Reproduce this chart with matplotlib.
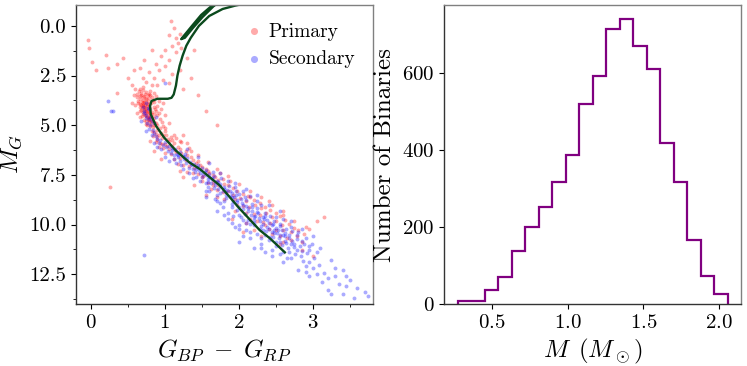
import numpy as np
import matplotlib
matplotlib.use("Agg")
import matplotlib.pyplot as plt
from matplotlib.ticker import AutoMinorLocator

plt.rcParams["font.family"] = "serif"
plt.rcParams["font.serif"] = ["cmr10"]
plt.rcParams["mathtext.fontset"] = "cm"
plt.rcParams["axes.formatter.use_mathtext"] = True

# --- colour-magnitude diagram (colour BP-RP vs M_G) ---
primary_pts = """
-0.04,0.7 -0.02,1.1 0.02,1.8 0.07,2.2 0.2,1.45 0.23,2.1 0.36,1.9 0.43,1.6 0.26,8.1 0.5,2.6 0.55,3.0 0.58,2.2 0.35,3.4
1.08,-0.25 1.12,0.1 1.05,0.45 1.15,0.6 1.2,0.4 1.18,0.85 1.1,1.0 1.0,1.2 0.95,1.5 1.05,1.7 1.15,1.3 1.22,1.1 0.88,1.9
0.92,2.2 1.0,2.0 1.1,2.4 0.78,2.3 0.85,2.6 0.98,2.7 1.05,2.9 0.7,2.6 0.75,2.85 0.9,3.0 1.2,2.2 1.3,1.6 1.4,1.2 1.35,2.6
0.82,1.2 0.72,1.7 0.66,2.1 1.25,3.2 1.45,3.5 1.7,5.0 1.55,4.3
0.65,3.3 0.7,3.25 0.75,3.35 0.8,3.3 0.85,3.4 0.68,3.5 0.72,3.55 0.77,3.5 0.63,3.6 0.66,3.7 0.7,3.75 0.74,3.7 0.79,3.65
0.83,3.6 0.88,3.55 0.64,3.9 0.67,3.95 0.71,3.9 0.75,3.85 0.78,3.95 0.86,3.85 0.92,3.8 0.66,4.1 0.69,4.15 0.72,4.1
0.76,4.05 0.8,4.2 0.85,4.1 0.9,4.05 0.67,4.3 0.71,4.35 0.74,4.3 0.78,4.4 0.83,4.35 0.88,4.3 0.95,4.2 0.69,4.55 0.73,4.5
0.76,4.6 0.8,4.55 0.85,4.65 0.9,4.5 0.72,4.75 0.75,4.8 0.79,4.85 0.83,4.75 0.88,4.9 0.94,4.7 0.76,5.0 0.8,5.05 0.84,5.1
0.9,5.0 0.97,5.05 0.6,4.0 0.58,3.5 0.62,4.4 1.0,4.5 1.05,4.9 0.98,3.9 0.7,3.1 0.82,3.0 0.6,3.2 0.55,3.9 0.66,4.6
0.68,3.4 0.73,3.45 0.78,3.42 0.64,3.8 0.69,3.85 0.73,3.98 0.77,3.78 0.81,3.9 0.68,4.22 0.73,4.2 0.77,4.25 0.81,4.45
0.7,4.45 0.75,4.4 0.78,4.52 0.86,4.45 0.74,4.95 0.78,4.75 0.81,4.95 0.86,5.0 0.71,4.0 0.84,3.75 0.87,4.2 0.92,4.4
0.62,3.45 0.67,3.2 0.96,4.85 0.93,5.15
0.7,3.6 0.74,3.62 0.72,3.82 0.76,3.92 0.7,4.05 0.74,4.12 0.78,4.1 0.72,4.25 0.76,4.35 0.8,4.38 0.74,4.55 0.78,4.62
0.82,4.6 0.77,4.7 0.81,4.78 0.85,4.85 0.8,3.5 0.66,3.55 0.68,4.0
0.82,5.3 0.86,5.35 0.9,5.25 0.95,5.4 1.0,5.3 0.84,5.55 0.9,5.6 0.96,5.65 1.02,5.5 1.08,5.6 0.88,5.85 0.94,5.9 1.0,5.95
1.06,5.8 1.12,5.9 0.92,6.1 0.98,6.15 1.05,6.2 1.1,6.05 1.18,6.1 1.0,6.4 1.08,6.45 1.15,6.35 1.22,6.4 0.8,5.8 1.3,5.9
1.25,5.5 0.85,6.3 0.95,6.7 1.35,6.3
0.88,5.45 0.92,5.5 0.98,5.5 1.04,5.7 1.1,5.75 1.15,5.65 1.2,5.8 0.9,5.75 0.96,5.95 1.03,6.05 1.14,6.25 1.2,6.2 1.28,6.3
1.3,6.5 1.38,6.75 1.45,6.8
1.0,5.15 1.12,5.5 1.22,5.85 1.32,6.15 1.45,6.5 1.58,6.85 1.7,7.2 1.85,7.55 2.0,7.95 2.15,8.3 2.3,8.6 2.45,9.0 2.6,9.5
2.75,9.8 2.9,10.1
1.12,6.7 1.2,6.65 1.28,6.75 1.35,6.6 1.42,6.9 1.18,6.95 1.25,7.0 1.32,7.05 1.4,7.15 1.48,7.0 1.55,7.2 1.3,7.35 1.38,7.4
1.45,7.45 1.52,7.55 1.6,7.4 1.68,7.6 1.5,7.8 1.58,7.9 1.65,7.85 1.72,8.0 1.8,7.95 1.62,8.2 1.7,8.25 1.78,8.35 1.85,8.3
1.92,8.5 1.25,7.6 1.4,8.0 1.55,8.5 1.75,7.4 1.88,7.8 1.2,7.3
1.5,7.1 1.58,7.3 1.65,7.5 1.72,7.75 1.78,7.7 1.85,8.0 1.92,8.15 1.98,8.3 2.05,8.45 2.12,8.55 2.2,8.75 2.28,8.9 2.35,9.1
2.42,9.25 2.5,9.4 2.55,9.55 2.62,9.75 2.68,9.95 2.75,10.15 2.8,10.3 2.88,10.5 2.7,10.8 2.6,10.9 2.45,10.5 2.35,10.0
2.15,9.7 1.95,9.3 1.8,8.7 1.65,8.0 1.5,7.6
1.95,8.7 2.02,8.65 2.1,8.8 2.15,8.6 1.98,9.0 2.06,9.05 2.14,9.1 2.22,9.0 2.3,9.15 2.1,9.4 2.2,9.45 2.28,9.5 2.36,9.4
2.45,9.6 2.25,9.8 2.33,9.85 2.42,9.9 2.5,9.8 2.58,10.0 2.4,10.2 2.5,10.25 2.6,10.3 2.7,10.4 2.55,10.6 2.65,10.7 2.78,10.6
2.85,10.9 2.2,10.3 2.05,10.4 1.9,9.7 2.4,8.8 2.6,9.3 2.95,10.2 3.0,11.6 3.15,9.6 3.05,9.8
2.3,10.6 2.1,9.9 2.55,11.0 2.85,11.3 1.7,8.6
"""

secondary_pts = """
0.3,4.3 0.23,3.8 0.27,4.3 0.72,11.55 0.75,3.9 0.78,4.2 0.8,4.6 0.85,4.9 0.72,4.4 1.0,2.9
0.72,4.3 0.75,4.5 0.78,4.7 0.76,4.9 0.8,5.0 0.82,4.8 0.74,4.65 0.79,5.2 0.84,5.25 0.86,5.4 0.83,5.5 0.88,5.55 0.9,5.7
0.94,5.75 0.92,5.9 0.97,6.0 1.0,5.85 0.7,4.1 0.77,4.15 0.88,4.6 0.68,4.8 0.75,5.3
1.02,6.1 1.06,6.05 1.1,6.25 1.14,6.2 1.08,6.4 1.16,6.45 1.2,6.35 1.24,6.55 1.18,6.6 1.26,6.7 1.3,6.65 1.34,6.85 1.28,6.9
1.36,7.0 1.4,6.95 1.44,7.1 1.38,7.2 1.46,7.25 1.5,7.15 1.54,7.35 1.48,7.4 1.56,7.5 1.6,7.45 1.12,6.7 1.22,7.0 1.32,7.4
1.42,7.6 1.0,6.6 1.3,6.2 1.45,6.6 1.6,6.9 1.55,7.9
0.95,6.2 1.04,6.3 1.12,6.5 1.2,6.8 1.27,6.45 1.33,7.15 1.41,7.35 1.5,7.6 1.58,7.85 1.66,8.15 1.74,8.4 1.82,8.65 1.9,8.95
1.97,9.25 2.03,9.6 2.12,9.75 2.2,9.9 2.28,10.2 2.35,10.55 2.42,10.65 2.5,10.9 2.58,11.05 2.68,11.4 2.78,11.3 2.85,11.35
1.1,6.15 1.18,6.5 1.26,6.6 1.35,6.95 1.42,7.2 1.52,7.45 1.6,7.6 1.68,7.85 1.75,8.05 1.83,8.35 1.9,8.6 1.98,8.75 2.05,9.0
2.12,9.3 2.2,9.6 2.27,9.65 2.33,9.95 2.4,10.2 2.47,10.45 2.55,10.55 2.62,10.85 2.7,11.0
1.45,7.0 1.55,7.25 1.63,7.7 1.72,7.85 1.8,8.2 1.88,8.3 1.96,8.5 2.03,8.7 2.1,9.05 2.18,9.1 2.24,9.35 2.32,9.6 2.38,9.75
2.46,9.95 2.53,10.3 2.6,10.55 2.68,10.7 2.75,11.0
1.75,7.4 1.95,7.9 2.1,8.2 2.25,8.5 2.4,9.0 2.55,9.3 2.7,9.8 2.85,10.2 3.0,10.6 1.55,8.3 1.7,8.8 1.85,9.7 2.0,10.0
2.15,10.4 2.3,11.2 2.45,11.6 2.0,10.9 1.8,9.5 2.6,11.9 3.05,11.4 3.3,12.2 2.95,12.6 3.45,12.6 3.74,13.6 3.25,13.5
1.58,7.7 1.64,7.65 1.7,7.8 1.62,7.9 1.68,8.0 1.74,7.95 1.8,8.1 1.72,8.2 1.78,8.3 1.84,8.25 1.9,8.4 1.82,8.5 1.88,8.55
1.94,8.6 2.0,8.45 1.92,8.8 1.98,8.85 2.04,8.9 2.1,8.75 2.0,9.1 2.06,9.2 2.12,9.15 2.18,9.3 2.08,9.45 2.16,9.5 2.22,9.55
2.26,9.4 1.7,8.5 1.8,8.8 1.9,9.1 2.0,9.5 1.85,7.8 1.95,8.1 2.05,8.3 2.15,8.55 2.25,8.8 1.6,8.3 1.75,8.9 1.85,9.4 2.1,9.9
1.65,7.35 2.3,9.0 1.55,8.6 1.7,9.3
1.66,7.55 1.76,7.65 1.87,8.05 1.96,8.3 2.08,8.6 2.18,8.95 2.25,9.15 2.35,9.55 2.42,9.55 2.48,9.8 2.55,10.05 2.64,10.2
2.72,10.35 2.78,10.55 2.85,10.85 2.94,11.1 2.98,11.0 2.55,9.95 2.62,10.45 2.48,10.25 2.32,10.3 2.15,9.95 2.05,9.75
1.92,9.55 1.78,9.1 1.68,8.7 1.58,8.1 1.48,7.8 1.38,7.65 1.25,7.2 1.15,6.9 1.05,6.8 0.9,6.1 0.86,5.9
2.2,9.75 2.28,9.8 2.34,9.7 2.4,9.9 2.3,10.05 2.38,10.1 2.44,10.0 2.5,10.15 2.36,10.35 2.44,10.4 2.52,10.45 2.58,10.3
2.46,10.65 2.54,10.7 2.62,10.6 2.68,10.55 2.56,10.9 2.64,10.95 2.72,10.85 2.78,10.75 2.66,11.2 2.74,11.15 2.82,11.1
2.88,11.0 2.6,9.7 2.7,10.1 2.8,10.4 2.9,10.7 2.25,10.5 2.4,10.8 2.5,11.1 2.2,10.0 2.35,9.4 2.5,9.6 2.95,11.3 2.3,11.0
2.15,10.7 2.0,10.2 2.05,10.6 2.2,11.2 1.95,10.1 2.35,11.4
2.45,11.3 2.55,11.5 2.65,11.7 2.9,12.4 2.3,10.7 2.1,10.3 1.9,9.9
2.76,11.5 2.84,11.6 2.92,11.45 2.86,11.85 2.95,11.9 3.02,11.7 2.9,12.1 3.0,12.2 3.08,12.05 3.05,12.5 3.15,12.45 3.2,12.7
3.12,12.9 3.3,12.6 3.35,13.0 3.45,13.1 3.5,12.8 3.4,13.5 3.6,13.2 3.7,13.4 3.55,13.7 2.8,12.3 3.25,11.8 3.4,12.3 2.7,11.7
2.6,11.4 3.1,11.2 3.2,13.3
"""


def parse_pts(text):
    return np.array([[float(v) for v in p.split(",")] for p in text.split()])


primary = parse_pts(primary_pts)
secondary = parse_pts(secondary_pts)

# isochrone: main sequence -> turnoff -> subgiant -> RGB (off the top) -> red clump and back
iso_color = [2.62, 2.42, 2.28, 2.01, 1.74, 1.47, 1.33, 1.15, 0.99, 0.88, 0.81, 0.80, 0.82, 0.90,
             1.04, 1.09, 1.12, 1.15, 1.17, 1.20, 1.24, 1.29, 1.35, 1.46, 1.60, 1.78, 1.95, 2.3, 3.0,
             2.1, 1.80, 1.63, 1.49, 1.36, 1.25, 1.22, 1.27, 1.38, 1.51, 1.66, 1.78]
iso_mag = [11.4, 10.7, 10.28, 9.2, 8.03, 7.2, 6.87, 6.28, 5.62, 5.03, 4.45, 4.03, 3.78, 3.67,
           3.67, 3.62, 3.45, 3.0, 2.5, 2.0, 1.5, 1.0, 0.6, 0.0, -0.5, -0.85, -1.02, -1.3, -1.8,
           -1.6, -1.25, -1.0, -0.55, 0.03, 0.53, 0.67, 0.6, 0.1, -0.45, -1.0, -1.3]

# --- mass histogram ---
mass_lo, mass_hi = 0.273, 2.055
mass_counts = [9, 9, 35, 70, 138, 200, 251, 315, 386, 518, 592, 712, 738, 670, 608, 417, 317, 167, 73, 25]
mass_edges = np.linspace(mass_lo, mass_hi, len(mass_counts) + 1)

fig = plt.figure(figsize=(7.47, 3.66), dpi=100)
ax1 = fig.add_axes([0.1017, 0.1694, 0.3976, 0.8169])
ax2 = fig.add_axes([0.5944, 0.1694, 0.3976, 0.8169])

ax1.scatter(primary[:, 0], primary[:, 1], s=8, color="red", alpha=0.33, lw=0, label="Primary")
ax1.scatter(secondary[:, 0], secondary[:, 1], s=8, color="blue", alpha=0.33, lw=0, label="Secondary")
ax1.plot(iso_color, iso_mag, color="#0b4a1d", lw=1.7)
ax1.set_xlim(-0.2, 3.81)
ax1.set_ylim(14.0, -1.05)
ax1.set_xticks([0, 1, 2, 3])
ax1.set_yticks([0.0, 2.5, 5.0, 7.5, 10.0, 12.5])
ax1.set_yticklabels(["0.0", "2.5", "5.0", "7.5", "10.0", "12.5"])
ax1.xaxis.set_minor_locator(AutoMinorLocator(2))
ax1.yaxis.set_minor_locator(AutoMinorLocator(2))
ax1.set_xlabel(r"$G_{BP}\;-\;G_{RP}$", fontsize=18)
ax1.set_ylabel(r"$M_G$", fontsize=18)
ax1.legend(loc="upper right", frameon=False, fontsize=14, markerscale=1.8,
           handlelength=0.8, handletextpad=0.35, borderaxespad=0.5, labelspacing=0.5)

ax2.stairs(mass_counts, mass_edges, color="purple", lw=1.6)
ax2.set_xticks([0.5, 1.0, 1.5, 2.0])
ax2.set_yticks([0, 200, 400, 600])
ax2.set_xlabel(r"$M\ \,(M_\odot)$", fontsize=18)
ax2.set_ylabel("Number of Binaries", fontsize=18)
ax2.margins(x=0.05)
ax2.set_ylim(0, 775)

for ax in (ax1, ax2):
    ax.tick_params(which="major", direction="out", length=3.5, width=0.8, labelsize=15)
    ax.tick_params(which="minor", direction="out", length=2, width=0.6)
    for side, sp in ax.spines.items():
        sp.set_linewidth(1.0)
        sp.set_color("0.2" if side in ("left", "bottom") else "0.5")

fig.savefig("out.png", dpi=100)
